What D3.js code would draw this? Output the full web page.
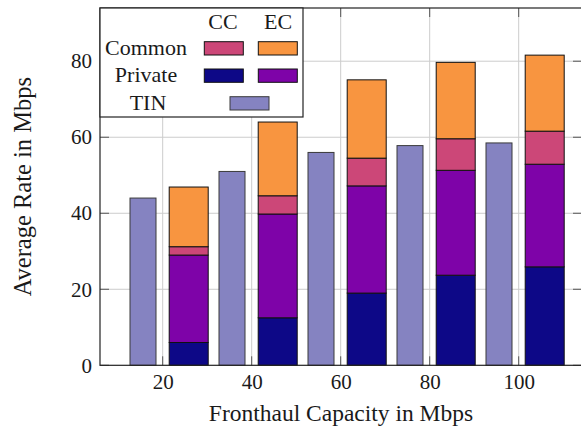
<!DOCTYPE html>
<html>
<head>
<meta charset="utf-8">
<script src="https://cdn.jsdelivr.net/npm/d3@7"></script>
<style>
  body { margin: 0; background: #fff; }
  svg text { font-family: "Liberation Serif", "Times New Roman", serif; fill: #1a1a1a; }
</style>
</head>
<body>
<div id="chart"></div>
<script>
// capacity values on the x axis
let capacity = [20, 40, 60, 80, 100]
// TIN bars
let tin = [44, 51, 56, 57.8, 58.5]
// stacked parts, from bottom to top
let privateCC = [6, 12.5, 19, 23.7, 25.9]
let privateEC = [23, 27.3, 28.2, 27.6, 27]
let commonCC = [2.2, 4.8, 7.3, 8.3, 8.7]
let commonEC = [15.7, 19.4, 20.6, 20.1, 20]
let xTicks = [20, 40, 60, 80, 100]
let yTicks = [0, 20, 40, 60, 80]

let colors = {
    privateCC: "#0d0887",
    privateEC: "#7e03a8",
    commonCC: "#cc4778",
    commonEC: "#f89540",
    tin: "#8583c1"
}

let width = 581
let height = 426
let plotLeft = 100, plotRight = 582, plotTop = 8, plotBottom = 365.3

let svg = d3.select("#chart")
    .append("svg")
    .attr("width", width)
    .attr("height", height)

// шкалы
let scaleX = d3.scaleLinear()
    .domain([20, 100])
    .range([162.7, 518.7])

let scaleY = d3.scaleLinear()
    .domain([0, 94])
    .range([plotBottom, plotTop])

// сетка
svg.append("g")
    .selectAll("line")
    .data(xTicks)
    .enter()
    .append("line")
    .attr("x1", d => scaleX(d)).attr("x2", d => scaleX(d))
    .attr("y1", plotTop).attr("y2", plotBottom)
    .attr("stroke", "#cccccc")
    .attr("stroke-width", 1)

svg.append("g")
    .selectAll("line")
    .data(yTicks.slice(1))
    .enter()
    .append("line")
    .attr("x1", plotLeft).attr("x2", plotRight)
    .attr("y1", d => scaleY(d)).attr("y2", d => scaleY(d))
    .attr("stroke", "#cccccc")
    .attr("stroke-width", 1)

// TIN bars
let tinShift = -19.7, tinWidth = 26
svg.append("g")
    .selectAll("rect")
    .data(capacity.map((c, i) => ({c: c, v: tin[i]})))
    .enter()
    .append("rect")
    .attr("x", d => scaleX(d.c) + tinShift - tinWidth / 2)
    .attr("width", tinWidth)
    .attr("y", d => scaleY(d.v))
    .attr("height", d => scaleY(0) - scaleY(d.v))
    .attr("fill", colors.tin)
    .attr("stroke", "#3a3a3a")
    .attr("stroke-width", 1)

// stacked bars
let keys = ["privateCC", "privateEC", "commonCC", "commonEC"]
let table = capacity.map((c, i) => ({
    c: c,
    privateCC: privateCC[i],
    privateEC: privateEC[i],
    commonCC: commonCC[i],
    commonEC: commonEC[i]
}))
let stacked = d3.stack().keys(keys)(table)
let stackShift = 26, stackWidth = 39

svg.append("g")
    .selectAll("g")
    .data(stacked)
    .enter()
    .append("g")
    .attr("fill", d => colors[d.key])
    .selectAll("rect")
    .data(d => d)
    .enter()
    .append("rect")
    .attr("x", d => scaleX(d.data.c) + stackShift - stackWidth / 2)
    .attr("width", stackWidth)
    .attr("y", d => scaleY(d[1]))
    .attr("height", d => scaleY(d[0]) - scaleY(d[1]))
    .attr("stroke", "#111")
    .attr("stroke-width", 1)

// оси
let axisY = d3.axisLeft(scaleY).tickValues(yTicks).tickSize(0).tickPadding(8)
let gy = svg.append("g")
    .attr("transform", `translate(${plotLeft}, 0)`)
    .call(axisY)
gy.select(".domain").remove()
gy.selectAll("text").style("font-size", "21px")

let axisX = d3.axisBottom(scaleX).tickValues(xTicks).tickSize(0).tickPadding(9)
let gx = svg.append("g")
    .attr("transform", `translate(0, ${plotBottom})`)
    .call(axisX)
gx.select(".domain").remove()
gx.selectAll("text").style("font-size", "21px")

// tick marks inside the frame
let tickLen = 9
xTicks.forEach(t => {
    svg.append("line").attr("x1", scaleX(t)).attr("x2", scaleX(t))
        .attr("y1", plotBottom).attr("y2", plotBottom - tickLen)
        .attr("stroke", "#555")
    svg.append("line").attr("x1", scaleX(t)).attr("x2", scaleX(t))
        .attr("y1", plotTop).attr("y2", plotTop + tickLen)
        .attr("stroke", "#555")
})
yTicks.forEach(t => {
    svg.append("line").attr("x1", plotLeft).attr("x2", plotLeft + tickLen)
        .attr("y1", scaleY(t)).attr("y2", scaleY(t))
        .attr("stroke", "#555")
    svg.append("line").attr("x1", plotRight).attr("x2", plotRight - tickLen)
        .attr("y1", scaleY(t)).attr("y2", scaleY(t))
        .attr("stroke", "#555")
})

svg.append("rect")
    .attr("x", plotLeft).attr("y", plotTop)
    .attr("width", plotRight - plotLeft).attr("height", plotBottom - plotTop)
    .attr("fill", "none")
    .attr("stroke", "#222")
    .attr("stroke-width", 1.2)

// axis titles
svg.append("text")
    .attr("x", (plotLeft + plotRight) / 2)
    .attr("y", 421)
    .attr("text-anchor", "middle")
    .style("font-size", "23.5px")
    .text("Fronthaul Capacity in Mbps")

svg.append("text")
    .attr("transform", `translate(31, ${(plotTop + plotBottom) / 2}) rotate(-90)`)
    .attr("text-anchor", "middle")
    .style("font-size", "24.5px")
    .text("Average Rate in Mbps")

// legend
let legend = svg.append("g")
legend.append("rect")
    .attr("x", plotLeft).attr("y", plotTop)
    .attr("width", 203).attr("height", 109)
    .attr("fill", "#fff")
    .attr("stroke", "#222")
    .attr("stroke-width", 1.2)

let legendText = [
    {t: "CC", x: 223, y: 28.5},
    {t: "EC", x: 278, y: 28.5},
    {t: "Common", x: 146, y: 55},
    {t: "Private", x: 146, y: 82},
    {t: "TIN", x: 148, y: 110}
]
legend.selectAll("text")
    .data(legendText)
    .enter()
    .append("text")
    .attr("x", d => d.x)
    .attr("y", d => d.y)
    .attr("text-anchor", "middle")
    .style("font-size", "22px")
    .text(d => d.t)

let swatches = [
    {k: "commonCC", x: 204.3, y: 41.7},
    {k: "commonEC", x: 258.3, y: 41.7},
    {k: "privateCC", x: 204.3, y: 69},
    {k: "privateEC", x: 258.3, y: 69},
    {k: "tin", x: 230, y: 96.7}
]
legend.selectAll("rect.sw")
    .data(swatches)
    .enter()
    .append("rect")
    .attr("class", "sw")
    .attr("x", d => d.x).attr("y", d => d.y)
    .attr("width", 39).attr("height", 13.3)
    .attr("fill", d => colors[d.k])
    .attr("stroke", d => d.k == "tin" ? "#3a3a3a" : "#111")
    .attr("stroke-width", 1)
</script>
</body>
</html>
